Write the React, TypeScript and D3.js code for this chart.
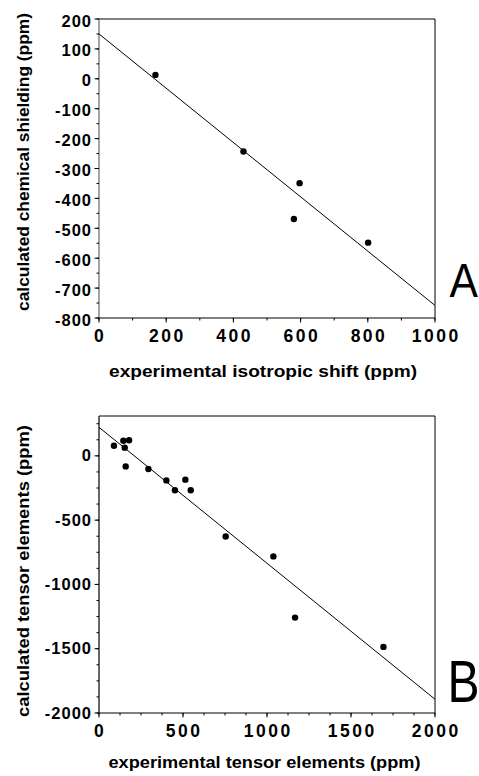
import React from "react";
import * as d3 from "d3";

// Panel A data
const aExpShift = [168, 430, 597, 580, 801];
const aCalcShield = [13, -243, -349, -469, -548];
const aFitX = [0, 1000];
const aFitY = [150, -758];
const aXTicks = [0, 200, 400, 600, 800, 1000];
const aYTicks = [200, 100, 0, -100, -200, -300, -400, -500, -600, -700, -800];

// Panel B data
const bExpTensor = [89, 145, 179, 153, 159, 294, 401, 514, 452, 546, 754, 1038, 1167, 1693];
const bCalcTensor = [79, 118, 121, 64, -82, -102, -191, -185, -268, -268, -627, -782, -1258, -1486];
const bFitX = [0, 2000];
const bFitY = [222, -1893];
const bXTicks = [0, 500, 1000, 1500, 2000];
const bYTicks = [0, -500, -1000, -1500, -2000];

const FONT = "'Liberation Sans', Arial, Helvetica, sans-serif";

type PanelProps = {
  top: number;
  bottom: number;
  xDomain: [number, number];
  yDomain: [number, number];
  xs: number[];
  ys: number[];
  fitX: number[];
  fitY: number[];
  xTicks: number[];
  yTicks: number[];
  xMinor: number;
  yMinor: number;
  xTitle: string;
  yTitle: string;
  xTitleLen: number;
  yTitleLen: number;
  yTitleCenter: number;
  xTitleX: number;
  xTitleY: number;
  letter: string;
  letterSize: number;
  letterScale: number;
  letterX: number;
  letterY: number;
  yLabelDy: number;
  axisColor: string;
};

function Panel(p: PanelProps) {
  const left = 99;
  const right = 435;
  const x = d3.scaleLinear().domain(p.xDomain).range([left, right]);
  const y = d3.scaleLinear().domain(p.yDomain).range([p.bottom, p.top]);
  const xMinorTicks = d3.range(p.xDomain[0], p.xDomain[1] + 0.001, p.xMinor);
  const yMinorTicks = d3.range(p.yDomain[0], p.yDomain[1] + 0.001, p.yMinor);
  const pts = p.xs.map((v, i) => [v, p.ys[i]] as [number, number]);
  const fit = p.fitX.map((v, i) => [v, p.fitY[i]] as [number, number]);
  const line = d3
    .line<[number, number]>()
    .x((d) => x(d[0]))
    .y((d) => y(d[1]));
  return (
    <g>
      {/* frame */}
      <line x1={left} x2={right} y1={p.top} y2={p.top} stroke="#000" strokeWidth={1} />
      <line x1={right} x2={right} y1={p.top} y2={p.bottom} stroke="#000" strokeWidth={1} />
      <line x1={left} x2={left} y1={p.top} y2={p.bottom} stroke={p.axisColor} strokeWidth={1.2} />
      <line x1={left} x2={right} y1={p.bottom} y2={p.bottom} stroke="#000" strokeWidth={1} />
      {/* minor ticks */}
      {xMinorTicks.map((t, i) => (
        <line key={"xm" + i} x1={x(t)} x2={x(t)} y1={p.bottom} y2={p.bottom + 2.5} stroke="#000" />
      ))}
      {yMinorTicks.map((t, i) => (
        <line key={"ym" + i} x1={left - 2.5} x2={left} y1={y(t)} y2={y(t)} stroke="#000" />
      ))}
      {/* major ticks */}
      {p.xTicks.map((t) => (
        <line key={"xt" + t} x1={x(t)} x2={x(t)} y1={p.bottom} y2={p.bottom + 4.5} stroke="#000" />
      ))}
      {p.yTicks.map((t) => (
        <line key={"yt" + t} x1={left - 4.5} x2={left} y1={y(t)} y2={y(t)} stroke="#000" />
      ))}
      {/* tick labels */}
      {p.xTicks.map((t) => (
        <text
          key={"xl" + t}
          x={x(t) + 1.2}
          y={p.bottom + 23.5}
          textAnchor="middle"
          fontFamily={FONT}
          fontWeight="bold"
          fontSize={17.5}
          letterSpacing={2.5}
        >
          {String(t)}
        </text>
      ))}
      {p.yTicks.map((t) => (
        <text
          key={"yl" + t}
          x={92}
          y={y(t) + p.yLabelDy}
          textAnchor="end"
          fontFamily={FONT}
          fontWeight="bold"
          fontSize={16.5}
          letterSpacing={1}
        >
          {String(t)}
        </text>
      ))}
      {/* fit line */}
      <path d={line(fit) || ""} fill="none" stroke="#000" strokeWidth={1} />
      {/* points */}
      {pts.map((d, i) => (
        <circle key={"pt" + i} cx={x(d[0])} cy={y(d[1])} r={3.2} fill="#000" />
      ))}
      {/* titles */}
      <text
        x={p.xTitleX}
        y={p.xTitleY}
        textAnchor="middle"
        fontFamily={FONT}
        fontWeight="bold"
        fontSize={16.5}
        textLength={p.xTitleLen}
        lengthAdjust="spacingAndGlyphs"
      >
        {p.xTitle}
      </text>
      <text
        transform={`translate(29,${p.yTitleCenter}) rotate(-90)`}
        textAnchor="middle"
        fontFamily={FONT}
        fontWeight="bold"
        fontSize={16.5}
        textLength={p.yTitleLen}
        lengthAdjust="spacingAndGlyphs"
      >
        {p.yTitle}
      </text>
      <text
        transform={`translate(${p.letterX},${p.letterY}) scale(${p.letterScale},1)`}
        fontFamily={FONT}
        fontSize={p.letterSize}
      >
        {p.letter}
      </text>
    </g>
  );
}

export default function App() {
  return (
    <svg
      width={479}
      height={776}
      style={{ position: "absolute", left: 0, top: 0, background: "#fff" }}
    >
      <rect x={0} y={0} width={479} height={776} fill="#fff" />
      <Panel
        top={19}
        bottom={318}
        xDomain={[0, 1000]}
        yDomain={[-800, 200]}
        xs={aExpShift}
        ys={aCalcShield}
        fitX={aFitX}
        fitY={aFitY}
        xTicks={aXTicks}
        yTicks={aYTicks}
        xMinor={100}
        yMinor={50}
        xTitle="experimental isotropic shift (ppm)"
        yTitle="calculated chemical shielding (ppm)"
        xTitleLen={308}
        yTitleLen={298}
        yTitleCenter={162}
        xTitleX={263}
        xTitleY={377}
        letter="A"
        letterSize={49}
        letterScale={0.87}
        letterX={449.5}
        letterY={297}
        yLabelDy={7.5}
        axisColor="#666"
      />
      <Panel
        top={416}
        bottom={713}
        xDomain={[0, 2000]}
        yDomain={[-2000, 310]}
        xs={bExpTensor}
        ys={bCalcTensor}
        fitX={bFitX}
        fitY={bFitY}
        xTicks={bXTicks}
        yTicks={bYTicks}
        xMinor={125}
        yMinor={125}
        xTitle="experimental tensor elements (ppm)"
        yTitle="calculated tensor elements (ppm)"
        xTitleLen={312}
        yTitleLen={292}
        yTitleCenter={571}
        xTitleX={264.5}
        xTitleY={768}
        letter="B"
        letterSize={60}
        letterScale={0.8}
        letterX={447.5}
        letterY={702}
        yLabelDy={5.5}
        axisColor="#000"
      />
    </svg>
  );
}
